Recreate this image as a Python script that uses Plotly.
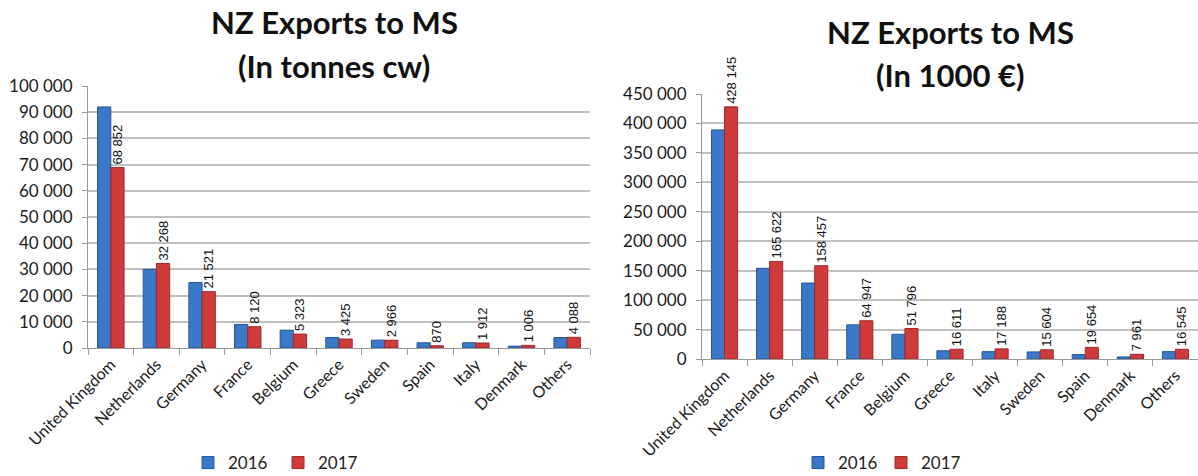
import plotly.graph_objects as go

cats_t = ["United Kingdom", "Netherlands", "Germany", "France", "Belgium", "Greece",
          "Sweden", "Spain", "Italy", "Denmark", "Others"]
t_2016 = [92000, 30000, 25000, 9000, 6800, 4000, 3000, 2000, 2000, 700, 4000]
t_2017 = [68852, 32268, 21521, 8120, 5323, 3425, 2966, 870, 1912, 1006, 4088]

cats_e = ["United Kingdom", "Netherlands", "Germany", "France", "Belgium", "Greece",
          "Italy", "Sweden", "Spain", "Denmark", "Others"]
e_2016 = [389000, 154000, 129000, 58000, 42000, 14000, 12500, 12000, 7500, 3500, 12500]
e_2017 = [428145, 165622, 158457, 64947, 51796, 16611, 17188, 15604, 19654, 7961, 16545]

years = ["2016", "2017"]
BLUE = "#3a78c8"
RED = "#cf3a3a"
FONT = "Lato"
W, H = 1198, 476

fig = go.Figure()

lbl_font = dict(family="Liberation Sans", size=13, color="#111")

fig.add_trace(go.Bar(x=cats_t, y=t_2016, name=years[0], marker=dict(color=BLUE, line=dict(color="#24569a", width=1)),
                     xaxis="x", yaxis="y", legend="legend", cliponaxis=False))
fig.add_trace(go.Bar(x=cats_t, y=t_2017, name=years[1], marker=dict(color=RED, line=dict(color="#9c2a2a", width=1)),
                     xaxis="x", yaxis="y", legend="legend", texttemplate="%{y:,d}", textposition="outside",
                     textangle=-90, textfont=lbl_font, constraintext="none", cliponaxis=False))
fig.add_trace(go.Bar(x=cats_e, y=e_2016, name=years[0], marker=dict(color=BLUE, line=dict(color="#24569a", width=1)),
                     xaxis="x2", yaxis="y2", legend="legend2", cliponaxis=False))
fig.add_trace(go.Bar(x=cats_e, y=e_2017, name=years[1], marker=dict(color=RED, line=dict(color="#9c2a2a", width=1)),
                     xaxis="x2", yaxis="y2", legend="legend2", texttemplate="%{y:,d}", textposition="outside",
                     textangle=-90, textfont=lbl_font, constraintext="none", cliponaxis=False))

xcommon = dict(type="category", tickangle=-45, tickfont=dict(family=FONT, size=16, color="#1a1a1a"),
               ticks="outside", tickson="boundaries", ticklen=6, tickcolor="#999",
               showline=True, linecolor="#999", showgrid=False, automargin=False)
ycommon = dict(tickformat=",d", tickfont=dict(family=FONT, size=17, color="#1a1a1a"),
               showgrid=True, gridcolor="#c0c0c0", gridwidth=1.5, showline=True, linecolor="#999",
               ticks="outside", ticklen=5, tickcolor="#999", zeroline=False, automargin=False,
               ticklabelstandoff=6)


def px(x):
    return x / W


def py(y):
    return (H - y) / H


title_font = dict(family=FONT, size=31, color="#111")
leg_font = dict(family=FONT, size=17, color="#222")

fig.update_layout(
    width=W, height=H,
    margin=dict(l=0, r=0, t=0, b=0, autoexpand=False),
    paper_bgcolor="white", plot_bgcolor="white",
    separators=". ",
    barmode="group", bargap=0.42, bargroupgap=0,
    xaxis=dict(domain=[px(88), px(590)], anchor="y", **xcommon),
    yaxis=dict(domain=[py(348), py(86)], anchor="x", range=[0, 100000], dtick=10000, **ycommon),
    xaxis2=dict(domain=[px(702), 1.0], anchor="y2", **xcommon),
    yaxis2=dict(domain=[py(359), py(94)], anchor="x2", range=[0, 450000], dtick=50000, **ycommon),
    legend=dict(orientation="h", x=px(188), y=py(463), xanchor="left", yanchor="middle",
                font=leg_font, bgcolor="rgba(0,0,0,0)", itemwidth=30, entrywidth=45),
    legend2=dict(orientation="h", x=px(798), y=py(463), xanchor="left", yanchor="middle",
                 font=leg_font, bgcolor="rgba(0,0,0,0)", itemwidth=30, entrywidth=38),
    annotations=[
        dict(text="<b>NZ Exports to MS</b>", x=px(334), y=py(22), xref="paper", yref="paper",
             xanchor="center", yanchor="middle", showarrow=False, font=title_font),
        dict(text="<b>(In tonnes cw)</b>", x=px(334), y=py(66), xref="paper", yref="paper",
             xanchor="center", yanchor="middle", showarrow=False, font=title_font),
        dict(text="<b>NZ Exports to MS</b>", x=px(950), y=py(32), xref="paper", yref="paper",
             xanchor="center", yanchor="middle", showarrow=False, font=title_font),
        dict(text="<b>(In 1000 €)</b>", x=px(950), y=py(75), xref="paper", yref="paper",
             xanchor="center", yanchor="middle", showarrow=False, font=title_font),
    ],
)

fig.write_html("out.html", config={"displayModeBar": False},
               post_script="document.body.style.margin='0';document.body.style.overflow='hidden';")
